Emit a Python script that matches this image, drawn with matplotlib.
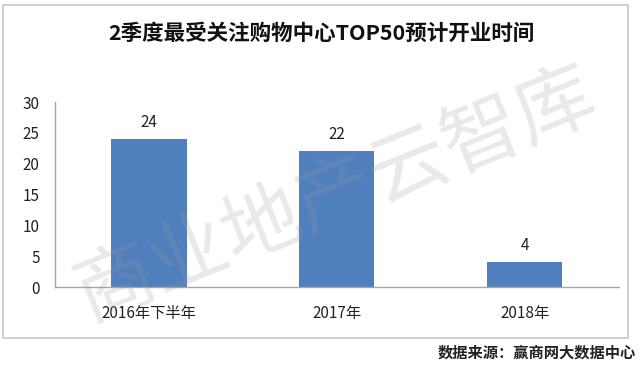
import matplotlib.pyplot as plt
from matplotlib.patches import Rectangle

plt.rcParams['font.family'] = ['Noto Sans CJK SC', 'DejaVu Sans']

categories = ['2016年下半年', '2017年', '2018年']
counts = [24, 22, 4]
yticks = [0, 5, 10, 15, 20, 25, 30]

fig = plt.figure(figsize=(6.4, 3.7), dpi=100)
ax = fig.add_axes([0.0859, 0.2243, 0.881, 0.5])

# outer chart frame
fig.patches.append(Rectangle((0.0047, 0.0865), 0.977, 0.9, transform=fig.transFigure,
                             fill=False, edgecolor='#c8c8c8', linewidth=1.2))

bars = ax.bar(range(len(categories)), counts, width=0.4, color='#4f7fbd', zorder=2)
for b, v in zip(bars, counts):
    ax.annotate(str(v), (b.get_x() + b.get_width() / 2, v), xytext=(0, 6),
                textcoords='offset points', ha='center', va='bottom', fontsize=11, color='#222222')

ax.set_xlim(-0.5, len(categories) - 0.5)
ax.set_ylim(0, 30)
ax.set_yticks(yticks)
ax.set_xticks(range(len(categories)))
ax.set_xticklabels(categories)
ax.tick_params(axis='both', length=0, labelsize=11, colors='#222222')
ax.tick_params(axis='x', pad=13)
ax.tick_params(axis='y', pad=11)
for s in ['top', 'right']:
    ax.spines[s].set_visible(False)
for s in ['left', 'bottom']:
    ax.spines[s].set_color('#a6a6a6')
    ax.spines[s].set_linewidth(1)

fig.text(0.502, 0.911, '2季度最受关注购物中心TOP50预计开业时间', ha='center', va='center',
         fontsize=15.5, fontweight='bold', color='#111111')
fig.text(0.994, 0.048, '数据来源：赢商网大数据中心', ha='right', va='center',
         fontsize=11, fontweight='bold', color='#222222')

# watermark
fig.text(0.525, 0.47, '商业地产云智库', ha='center', va='center', rotation=22,
         fontsize=57, fontweight='medium', color='#9a9a9a', alpha=0.22, zorder=10)

fig.savefig('out.png', dpi=100)
